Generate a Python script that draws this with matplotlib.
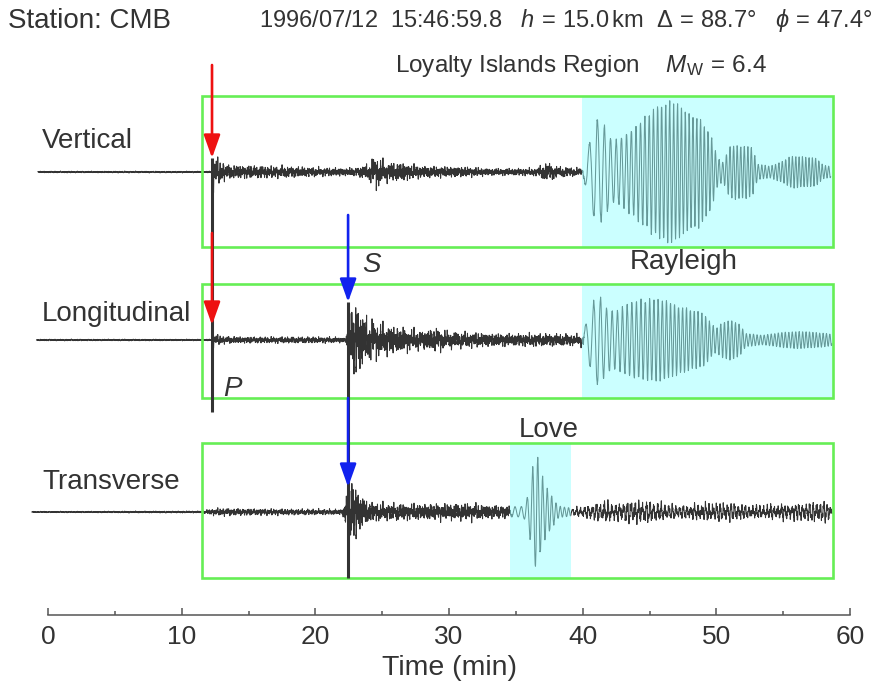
import numpy as np
import matplotlib.pyplot as plt
from matplotlib.patches import Rectangle

plt.rcParams['font.family'] = ['Liberation Sans', 'DejaVu Sans']
plt.rcParams['mathtext.fontset'] = 'custom'
plt.rcParams['mathtext.rm'] = 'Liberation Sans'
plt.rcParams['mathtext.it'] = 'Liberation Sans:italic'
plt.rcParams['mathtext.bf'] = 'Liberation Sans:bold'

# ---- event header ----
station = "CMB"
origin_date = "1996/07/12"
origin_time = "15:46:59.8"
depth_km = 15.0
distance_deg = 88.7
azimuth_deg = 47.4
region = "Loyalty Islands Region"
magnitude = 6.4

# ---- phase picks and windows (minutes) ----
p_time = 12.27
s_time = 22.45
record_window = (11.52, 58.73)
rayleigh_window = (39.95, 58.73)
love_window = (34.56, 39.13)

components = ["Vertical", "Longitudinal", "Transverse"]

# ---- peak amplitude along each record (plot units) ----
vert_env_t = [-0.75, 12.2, 12.3, 12.5, 12.9, 13.5, 16, 19, 20.5, 23, 24.0, 24.5, 25.2, 26.5,
              28, 31, 33, 36.5, 37.3, 38.2, 39.5, 40.0, 40.5, 41.0, 41.6, 42.2, 42.8, 43.5,
              44.5, 45.5, 46.3, 47.0, 47.8, 48.8, 49.6, 50.1, 50.5, 51.0, 52.0, 52.7, 53.1,
              54.0, 54.8, 55.5, 56.5, 57.5, 58.0, 58.55]
vert_env = [0.8, 0.8, 14, 15, 10, 7, 6, 5, 4, 4, 8, 16, 9, 9,
            6, 5, 3.5, 3.5, 9, 5, 4, 4, 30, 56, 48, 32, 35, 42,
            55, 67, 72, 71, 60, 55, 38, 15, 10, 27, 28, 25, 8,
            6, 10, 16, 16, 14, 7, 6]

long_env_t = [-0.85, 12.2, 12.3, 12.6, 13.2, 16, 20, 22.3, 22.45, 22.7, 23.0, 23.4, 24, 25,
              26.5, 28, 29, 30, 32, 35, 38, 39.8, 40.2, 40.6, 41.0, 41.3, 41.8, 42.5, 43.2,
              44.0, 45.0, 46.0, 47.0, 48.0, 49.0, 49.6, 50.0, 50.5, 51.2, 51.7, 52.2, 53.5,
              55.0, 56.5, 58.0, 58.65]
long_env = [0.8, 0.8, 6, 5, 3.5, 3, 3, 2.5, 20, 28, 40, 28, 20, 15,
            12, 9, 12, 8, 7, 6, 6, 5, 15, 30, 47, 45, 33, 30, 36,
            40, 42, 42, 36, 32, 28, 18, 12, 19, 20, 17, 7, 5,
            8, 9, 7, 6]

trans_env_t = [-1.2, 11.5, 12.3, 13, 17, 22.0, 22.45, 22.7, 23.0, 23.3, 24, 25, 28, 31,
               34.5, 35.3, 35.7, 36.0, 36.3, 36.55, 36.8, 37.2, 37.7, 38.2, 39.2, 40, 41.8,
               42.5, 43.5, 45, 46.5, 47.5, 49, 51, 52.5, 54, 56, 57.5, 58.2, 58.65]
trans_env = [0.6, 1, 3, 3.5, 3, 2.5, 20, 30, 30, 18, 10, 8, 8, 8,
             6, 5, 8, 22, 50, 62, 45, 28, 16, 6, 4, 6, 12,
             9, 12, 12, 8, 7, 10, 10, 7, 8, 9, 11, 11, 7]

# ---- dominant period of the surface-wave trains (minutes) ----
vert_per_t = [-1, 39.9, 40.5, 41.5, 42.5, 44, 46, 49, 53, 59]
vert_per = [0.3, 0.8, 0.65, 0.5, 0.4, 0.34, 0.3, 0.28, 0.26, 0.24]
long_per_t = [-1, 39.9, 40.5, 41.5, 43, 45, 48, 52, 59]
long_per = [0.3, 0.75, 0.6, 0.45, 0.36, 0.32, 0.29, 0.27, 0.25]
trans_per_t = [-1, 34.5, 35.5, 36.5, 37.5, 39.2, 45, 59]
trans_per = [0.3, 0.5, 0.45, 0.38, 0.33, 0.3, 0.28, 0.26]

# ---- share of incoherent (body-wave coda) motion ----
vert_rough_t = [-1, 39.8, 40.2, 59]
vert_rough = [0.85, 0.85, 0.05, 0.05]
long_rough_t = [-1, 39.8, 40.2, 59]
long_rough = [0.85, 0.85, 0.05, 0.05]
trans_rough_t = [-1, 34.4, 34.8, 39.0, 39.4, 59]
trans_rough = [0.85, 0.85, 0.05, 0.05, 0.5, 0.5]

dt = 0.004
coda_periods = [0.037, 0.058, 0.089, 0.137, 0.21]
coda_phases = [0.3, 1.7, 4.1, 2.6, 5.3]


def seismogram(env_t, env, per_t, per, rough_t, rough):
    t = np.arange(env_t[0], env_t[-1], dt)
    amp = np.interp(t, env_t, env)
    period = np.interp(t, per_t, per)
    mix = np.interp(t, rough_t, rough)
    coherent = np.sin(2 * np.pi * np.cumsum(dt / period))
    coda = sum(np.sin(2 * np.pi * t / T + ph) for T, ph in zip(coda_periods, coda_phases))
    coda = coda / (2.0 * coda.std())
    return t, amp * ((1 - mix) * coherent + mix * coda)


traces = {
    "Vertical": seismogram(vert_env_t, vert_env, vert_per_t, vert_per, vert_rough_t, vert_rough),
    "Longitudinal": seismogram(long_env_t, long_env, long_per_t, long_per, long_rough_t, long_rough),
    "Transverse": seismogram(trans_env_t, trans_env, trans_per_t, trans_per, trans_rough_t, trans_rough),
}

# vertical layout (y grows downward)
baseline = {"Vertical": 172, "Longitudinal": 340, "Transverse": 512}
box_rows = {"Vertical": (96, 247), "Longitudinal": (284, 398), "Transverse": (443, 578)}
label_y = {"Vertical": 141, "Longitudinal": 314, "Transverse": 482}
shade = {"Vertical": rayleigh_window, "Longitudinal": rayleigh_window, "Transverse": love_window}

ink = '#333333'
green = '#66ee55'
cyan = (0.6, 1.0, 1.0)

fig = plt.figure(figsize=(8.77, 6.92), dpi=100)
ax = fig.add_axes([0, 0, 1, 1])
ax.set_xlim(-3.591, 62.019)
ax.set_ylim(692, 0)

for comp in components:
    t, u = traces[comp]
    ax.plot(t, baseline[comp] - u, color=ink, lw=0.75, zorder=2)
    y0, y1 = box_rows[comp]
    w0, w1 = shade[comp]
    ax.add_patch(Rectangle((w0, y0), w1 - w0, y1 - y0, facecolor=cyan, alpha=0.5,
                           edgecolor='none', zorder=3))
    ax.add_patch(Rectangle((record_window[0], y0), record_window[1] - record_window[0], y1 - y0,
                           fill=False, edgecolor=green, lw=1.9, zorder=4))
    ax.text(-0.45, label_y[comp], comp, fontsize=20, color=ink, va='center', ha='left')

# P and S arrival markers
ax.plot([p_time, p_time], [158, 412], color=ink, lw=2.2, zorder=5, solid_capstyle='butt')
ax.plot([s_time, s_time], [302, 578], color=ink, lw=2.2, zorder=5, solid_capstyle='butt')

arrow_style = '-|>,head_length=1.4,head_width=0.5'
for x, tail, tip, col in [(p_time, 65, 158, '#ee1111'), (p_time, 233, 325, '#ee1111'),
                          (s_time, 215, 302, '#1122ee'), (s_time, 398, 487, '#1122ee')]:
    ax.annotate('', xy=(x, tip), xytext=(x, tail),
                arrowprops=dict(arrowstyle=arrow_style, color=col, lw=1.9,
                                mutation_scale=10, shrinkA=0, shrinkB=0), zorder=6)

ax.text(23.49, 265, 'S', fontsize=20, style='italic', color=ink, va='center', ha='left')
ax.text(13.09, 389, 'P', fontsize=20, style='italic', color=ink, va='center', ha='left')
ax.text(47.58, 262, 'Rayleigh', fontsize=20, color=ink, va='center', ha='center')
ax.text(37.48, 430, 'Love', fontsize=20, color=ink, va='center', ha='center')

# header
ax.text(-2.99, 21, f"Station: {station}", fontsize=20, color=ink, va='center', ha='left')
header = (f"{origin_date}  {origin_time}   $h\\,{{=}}\\,${depth_km:.1f}$\\,$km  "
          f"Δ$\\,{{=}}\\,${distance_deg}°   $\\phi\\,{{=}}\\,${azimuth_deg}°")
ax.text(61.72, 21, header, fontsize=17, color=ink, va='center', ha='right')
ax.text(25.96, 66, f"{region}    $M_\\mathrm{{W}}\\,{{=}}\\,${magnitude}", fontsize=17.5,
        color=ink, va='center', ha='left')

# time axis
for side in ['left', 'right', 'top']:
    ax.spines[side].set_visible(False)
ax.spines['bottom'].set_position(('data', 615))
ax.spines['bottom'].set_bounds(0, 60)
ax.spines['bottom'].set_color('#555555')
ax.spines['bottom'].set_linewidth(1.1)
ax.set_xticks(range(0, 61, 10))
ax.set_xticks(range(5, 60, 10), minor=True)
ax.tick_params(axis='x', which='major', direction='in', length=5, width=1.1, color='#555555',
               pad=7, labelsize=19, labelcolor=ink)
ax.tick_params(axis='x', which='minor', direction='in', length=3, width=1.1, color='#555555')
ax.set_yticks([])
ax.text(30, 668, 'Time (min)', fontsize=20.5, color=ink, va='center', ha='center')

fig.savefig('out.png', dpi=100)
